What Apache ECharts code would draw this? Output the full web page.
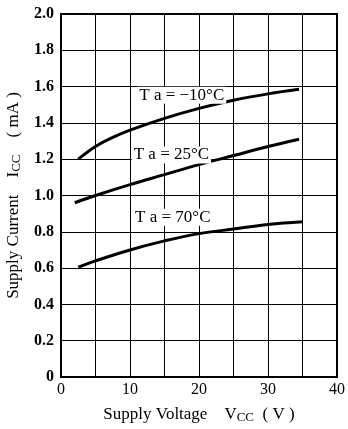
<!DOCTYPE html>
<html>
<head>
<meta charset="utf-8">
<script src="https://cdn.jsdelivr.net/npm/echarts@6/dist/echarts.min.js"></script>
<style>
  html,body{margin:0;padding:0;background:#fff;}
  #main{width:348px;height:429px;}
</style>
</head>
<body>
<div id="main"></div>
<script>
// supply voltage (V) and supply current (mA)
var vcc = [2.5, 5, 7.5, 10, 15, 20, 25, 30, 34.5];
var iccM10 = [1.2, 1.27, 1.32, 1.36, 1.425, 1.48, 1.525, 1.56, 1.585];
var vcc25 = [2, 5, 10, 15, 20, 25, 30, 34.5];
var icc25 = [0.96, 1.0, 1.06, 1.115, 1.17, 1.22, 1.27, 1.31];
var vcc70 = [2.5, 5, 10, 15, 20, 25, 30, 35];
var icc70 = [0.605, 0.64, 0.7, 0.75, 0.79, 0.815, 0.84, 0.855];
var curveNames = ['T a = −10°C', 'T a = 25°C', 'T a = 70°C'];

function pairs(xs, ys){
  var out = [];
  for (var i = 0; i < xs.length; i++) out.push([xs[i], ys[i]]);
  return out;
}

var font = '"Liberation Serif", "DejaVu Serif", serif';

function curve(name, data, at){
  return {
    name: name,
    type: 'line',
    smooth: 0.4,
    symbol: 'none',
    data: data,
    lineStyle: {color: '#000', width: 3},
    z: 3,
    markPoint: {
      symbol: 'rect',
      symbolSize: 1,
      itemStyle: {color: 'transparent'},
      data: [{coord: at, value: name}],
      label: {
        show: true,
        position: 'inside',
        formatter: name,
        color: '#000',
        fontFamily: font,
        fontSize: 17,
        backgroundColor: '#fff',
        padding: [0, 2]
      }
    }
  };
}

var chart = echarts.init(document.getElementById('main'));
chart.setOption({
  animation: false,
  backgroundColor: '#fff',
  grid: {
    left: 61, right: 11, top: 14, bottom: 52,
    outerBoundsMode: 'none', containLabel: false,
    show: true, borderColor: '#000', borderWidth: 2
  },
  xAxis: {
    type: 'value', min: 0, max: 40, interval: 5,
    axisLine: {show: true, lineStyle: {color: '#000', width: 2}},
    axisTick: {show: false},
    splitLine: {show: true, lineStyle: {color: '#000', width: 1}},
    axisLabel: {
      color: '#000', fontFamily: font, fontSize: 16, margin: 5,
      formatter: function(v){ return v % 10 === 0 ? v : ''; }
    },
    name: '{a|Supply Voltage    V}{s|CC}{a|  ( V )}',
    nameLocation: 'middle', nameGap: 28,
    nameTextStyle: {
      rich: {
        a: {fontFamily: font, fontSize: 17, color: '#000'},
        s: {fontFamily: font, fontSize: 13, color: '#000', padding: [6, 0, 0, 0]}
      }
    }
  },
  yAxis: {
    type: 'value', min: 0, max: 2.0, interval: 0.2,
    axisLine: {show: true, lineStyle: {color: '#000', width: 2}},
    axisTick: {show: false},
    splitLine: {show: true, lineStyle: {color: '#000', width: 1}},
    axisLabel: {
      color: '#000', fontFamily: font, fontSize: 16, fontWeight: 'bold', margin: 7,
      formatter: function(v){ return v === 0 ? '0' : v.toFixed(1); }
    },
    name: '{a|Supply Current    I}{s|CC}{a|    ( mA )}',
    nameLocation: 'middle', nameRotate: 90, nameGap: 30,
    nameTextStyle: {
      rich: {
        a: {fontFamily: font, fontSize: 17, color: '#000'},
        s: {fontFamily: font, fontSize: 13, color: '#000', padding: [6, 0, 0, 0]}
      }
    }
  },
  series: [
    curve(curveNames[0], pairs(vcc, iccM10), [17.5, 1.553]),
    curve(curveNames[1], pairs(vcc25, icc25), [16, 1.223]),
    curve(curveNames[2], pairs(vcc70, icc70), [16.2, 0.88])
  ]
});
</script>
</body>
</html>
